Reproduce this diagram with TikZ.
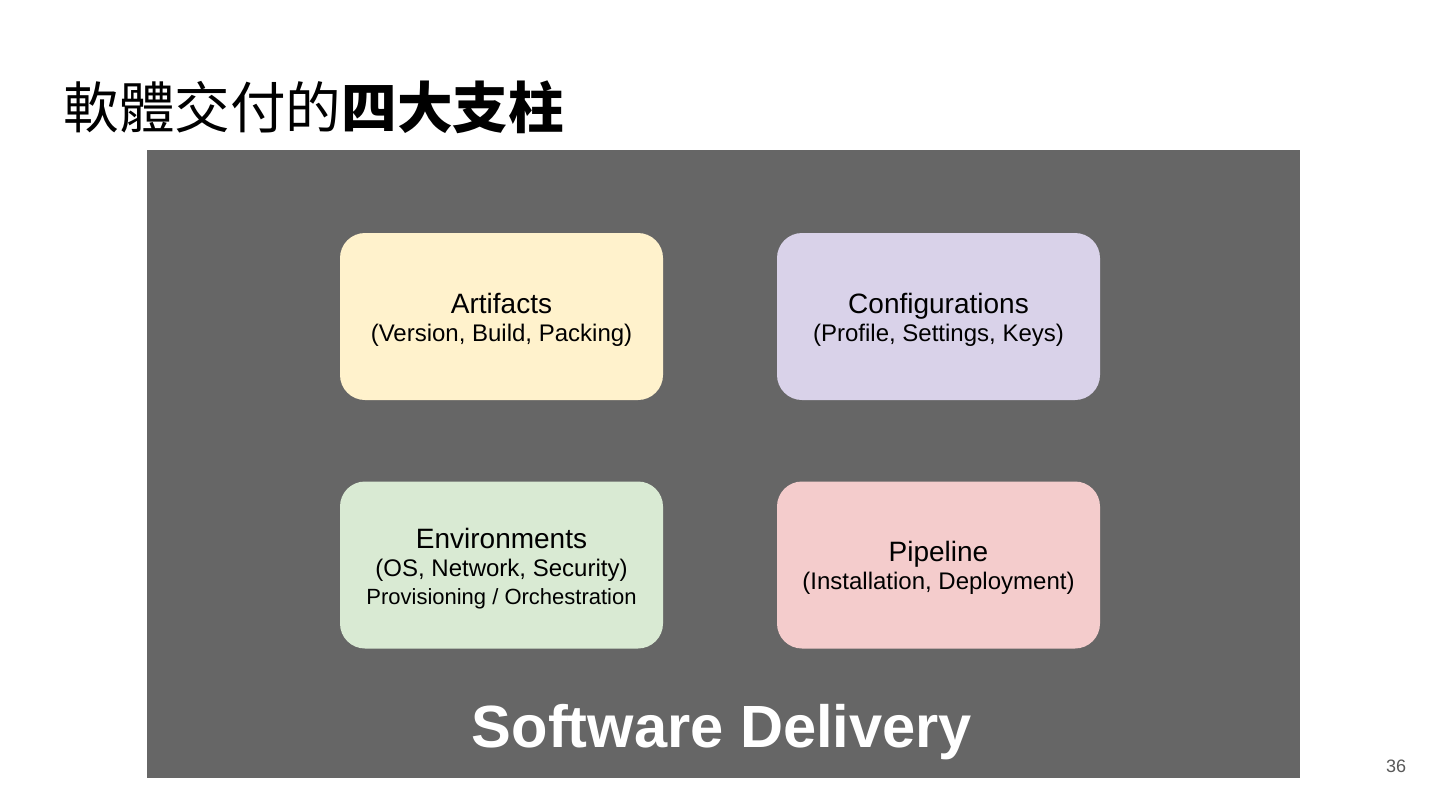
\documentclass[tikz,border=0pt]{standalone}
\usepackage{fontspec}
\setmainfont{Liberation Sans}
\newfontfamily\cjk{Noto Sans CJK TC}
\definecolor{slidegray}{HTML}{666666}
\definecolor{pageno}{HTML}{595959}
\definecolor{artyellow}{HTML}{FFF2CC}
\definecolor{confpurple}{HTML}{D9D2E9}
\definecolor{envgreen}{HTML}{D9EAD3}
\definecolor{pipered}{HTML}{F4CCCC}
\newcommand{\pillarhead}[1]{\rule{0pt}{13.3pt}{\fontsize{14}{15}\selectfont #1}}

\begin{document}
\begin{tikzpicture}[x=0.5pt,y=-0.5pt,
    pillar/.style={rounded corners=12.5pt,minimum width=161.5pt,
        minimum height=83.5pt,align=center,inner sep=0pt,
        font=\fontsize{12}{15}\selectfont}]
    \useasboundingbox[fill=white] (0,0) rectangle (1440,810);

    % title
    \node[anchor=west,inner sep=0pt,font=\fontsize{27.8}{30}\selectfont\cjk] (title) at (63,107)
        {軟體交付的\textbf{四大支柱}};

    % dark panel
    \fill[slidegray] (147,150) rectangle (1300,778);

    \node[pillar,fill=artyellow] (artifacts) at (501.5,316.5)
        {\pillarhead{Artifacts}\\[-1pt](Version, Build, Packing)};
    \node[pillar,fill=confpurple] (configs) at (938.5,316.5)
        {\pillarhead{Configurations}\\[-1pt](Profile, Settings, Keys)};
    \node[pillar,fill=envgreen] (envs) at (501.5,565)
        {\pillarhead{Environments}\\[-1pt](OS, Network, Security)\\[-1pt]
         {\fontsize{11}{14}\selectfont Provisioning / Orchestration}};
    \node[pillar,fill=pipered] (pipeline) at (938.5,565)
        {\pillarhead{Pipeline}\\[-1pt](Installation, Deployment)};

    \node[white,font=\fontsize{29.8}{34}\selectfont\bfseries] (delivery) at (722,732)
        {Software Delivery};
    \node[pageno,font=\fontsize{9}{11}\selectfont] (page) at (1396,766) {36};
\end{tikzpicture}
\end{document}
